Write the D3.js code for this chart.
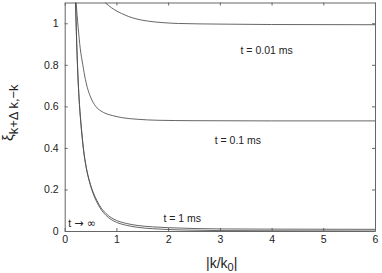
<!DOCTYPE html>
<html>
<head>
<meta charset="utf-8">
<script src="https://cdn.jsdelivr.net/npm/d3@7"></script>
<style>
  body { margin: 0; background: #fff; }
  svg { display: block; font-family: "Liberation Sans", Arial, sans-serif; }
</style>
</head>
<body>
<svg id="chart" width="382" height="273"></svg>
<script>
// values
var xTicks = [0, 1, 2, 3, 4, 5, 6];
var yTicks = [0, 0.2, 0.4, 0.6, 0.8, 1];

var kInf = [0.21, 0.23, 0.25, 0.28, 0.32, 0.36, 0.42, 0.48, 0.55, 0.62, 0.7, 0.8, 0.9, 1.0, 1.2, 1.4, 1.7, 2.0, 2.5, 3, 4, 6];
var vInf = [1.1, 0.92, 0.78, 0.63, 0.50, 0.40, 0.30, 0.235, 0.18, 0.14, 0.105, 0.075, 0.055, 0.042, 0.027, 0.018, 0.011, 0.007, 0.004, 0.002, 0.001, 0.0];

var k1ms = [0.21, 0.23, 0.25, 0.28, 0.32, 0.36, 0.42, 0.48, 0.55, 0.62, 0.7, 0.8, 0.9, 1.0, 1.2, 1.4, 1.7, 2.0, 2.5, 3, 4, 6];
var v1ms = [1.1, 0.92, 0.78, 0.63, 0.50, 0.40, 0.302, 0.24, 0.187, 0.148, 0.113, 0.084, 0.064, 0.051, 0.036, 0.027, 0.02, 0.016, 0.012, 0.01, 0.009, 0.008];

var k01ms = [0.22, 0.26, 0.3, 0.35, 0.4, 0.45, 0.5, 0.6, 0.7, 0.8, 0.92, 1.1, 1.4, 1.8, 2.5, 4, 6];
var v01ms = [1.1, 0.98, 0.88, 0.8, 0.73, 0.68, 0.645, 0.6, 0.578, 0.565, 0.556, 0.546, 0.538, 0.533, 0.531, 0.53, 0.53];

var k001ms = [0.78, 0.85, 0.97, 1.1, 1.23, 1.4, 1.62, 1.9, 2.2, 3, 4, 6];
var v001ms = [1.1, 1.085, 1.064, 1.047, 1.033, 1.02, 1.01, 1.003, 0.999, 0.996, 0.994, 0.993];

var curves = [
  {k: kInf, v: vInf},
  {k: k1ms, v: v1ms},
  {k: k01ms, v: v01ms},
  {k: k001ms, v: v001ms}
];

var labels = [
  {text: "t = 0.01 ms", k: 3.4, v: 0.85},
  {text: "t = 0.1 ms", k: 2.9, v: 0.42},
  {text: "t = 1 ms", k: 1.91, v: 0.045}
];

var margin = {top: 2.5, right: 7, bottom: 42, left: 64.7};
var width = 382 - margin.left - margin.right,
    height = 273 - margin.top - margin.bottom;

var svg = d3.select("#chart");
var g = svg.append("g")
  .attr("transform", "translate(" + margin.left + "," + margin.top + ")");

var x = d3.scaleLinear().domain([0, 6]).range([0, width]);
var y = d3.scaleLinear().domain([0, 1.1]).range([height, 0]);

var axisColor = "#666";

// axes with inward ticks, mirrored on top and right
var axBottom = g.append("g").attr("transform", "translate(0," + height + ")")
  .call(d3.axisBottom(x).tickValues(xTicks).tickSizeInner(-3).tickSizeOuter(0).tickPadding(5).tickFormat(d3.format("d")));
var axTop = g.append("g")
  .call(d3.axisTop(x).tickValues(xTicks).tickSizeInner(-3).tickSizeOuter(0).tickFormat(""));
var axLeft = g.append("g")
  .call(d3.axisLeft(y).tickValues(yTicks).tickSizeInner(-3).tickSizeOuter(0).tickPadding(6).tickFormat(function(d){ return d === 0 ? "0" : d3.format("")(d); }));
var axRight = g.append("g").attr("transform", "translate(" + width + ",0)")
  .call(d3.axisRight(y).tickValues(yTicks).tickSizeInner(-3).tickSizeOuter(0).tickFormat(""));

[axBottom, axTop, axLeft, axRight].forEach(function(a){
  a.selectAll("path").attr("stroke", axisColor);
  a.selectAll("line").attr("stroke", axisColor);
  a.selectAll("text").attr("fill", "#222").style("font-size", "10.5px").style("font-family", "Liberation Sans, Arial, sans-serif");
});

var line = d3.line()
  .x(function(d){ return x(d[0]); })
  .y(function(d){ return y(d[1]); })
  .curve(d3.curveMonotoneX);

g.append("defs").append("clipPath").attr("id", "clip")
  .append("rect").attr("width", width).attr("height", height);

g.append("g").attr("clip-path", "url(#clip)")
  .selectAll("path.curve")
  .data(curves)
  .enter().append("path")
  .attr("class", "curve")
  .attr("fill", "none")
  .attr("stroke", "#4a4a4a")
  .attr("stroke-width", 0.85)
  .attr("d", function(c){ return line(c.k.map(function(k, i){ return [k, c.v[i]]; })); });

g.selectAll("text.lab")
  .data(labels)
  .enter().append("text")
  .attr("class", "lab")
  .attr("x", function(d){ return x(d.k); })
  .attr("y", function(d){ return y(d.v); })
  .attr("fill", "#222")
  .style("font-size", "10.5px")
  .text(function(d){ return d.text; });

// t -> infinity label, symbols from DejaVu so the arrow is full size
var tinf = g.append("text")
  .attr("x", x(0.07))
  .attr("y", y(0.017))
  .attr("fill", "#222")
  .style("font-size", "10.5px");
tinf.append("tspan").text("t ");
tinf.append("tspan").style("font-family", "DejaVu Sans").style("font-size", "11px").text("\u2192 \u221e");

// x label
var xl = svg.append("text")
  .attr("x", 206)
  .attr("y", 268)
  .attr("fill", "#222")
  .style("font-size", "14px");
xl.append("tspan").text("|k/k");
xl.append("tspan").attr("baseline-shift", "-30%").style("font-size", "11px").text("0");
xl.append("tspan").text("|");

// y label
var yl = svg.append("text")
  .attr("transform", "translate(13,141) rotate(-90)")
  .attr("fill", "#222")
  .style("font-size", "15px");
yl.append("tspan").text("\u03be");
yl.append("tspan").attr("baseline-shift", "-35%").style("font-size", "13px").text("k+\u0394 k,\u2212k");
</script>
</body>
</html>
